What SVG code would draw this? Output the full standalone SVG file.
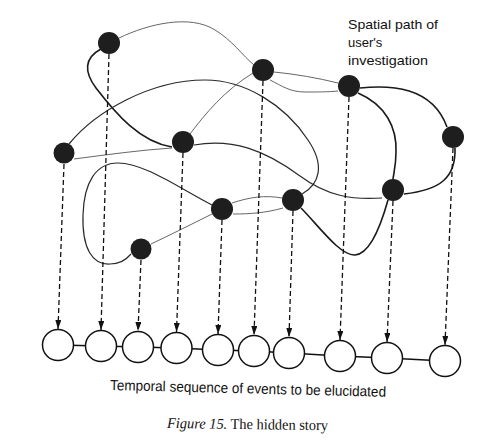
<svg xmlns="http://www.w3.org/2000/svg" width="490" height="442" viewBox="0 0 490 442">
<style>
.bg{fill:#fff}
.node{fill:#1e1e1e}
.slot{fill:#fff;stroke:#111;stroke-width:1.5}
.thick{fill:none;stroke:#1a1a1a;stroke-width:1.6}
.thin{fill:none;stroke:#555;stroke-width:0.9}
.mid{fill:none;stroke:#2a2a2a;stroke-width:1.2}
.drop{fill:none;stroke:#111;stroke-width:1.3;stroke-dasharray:5 3}
.link{fill:none;stroke:#111;stroke-width:1.4}
.lbl{font-family:"Liberation Sans","DejaVu Sans",sans-serif;font-size:13px;fill:#111}
.cap{font-family:"Liberation Sans","DejaVu Sans",sans-serif;font-size:14.5px;fill:#111}
.fig{font-family:"Liberation Serif","DejaVu Serif",serif;font-size:15px;fill:#111}
</style>
<defs>
<marker id="ah" viewBox="0 0 9 6" refX="9" refY="3" markerWidth="9" markerHeight="6" markerUnits="userSpaceOnUse" orient="auto">
<path d="M0,0 L9,3 L0,6 z" fill="#111"/>
</marker>
</defs>
<rect class="bg" x="0" y="0" width="490" height="442"/>
<g id="connectors">
<g id="spatial-path">
<path class="thin" d="M119,38 C148,24 190,14 215,30 C232,40 243,56 254,65"/>
<path class="thick" d="M101,49 C84,58 84,72 96,88 C116,114 140,142 172,147"/>
<path class="mid" d="M69,144 C95,112 150,80 205,80 C245,80 285,105 308,140 C325,165 320,184 302,194"/>
<path class="thin" d="M190,134 C205,114 225,90 253,73"/>
<path class="thin" d="M274,72 C295,74 318,78 338,83"/>
<path class="thin" d="M270,80 C282,86 290,92 305,92 C318,92 328,92 338,91"/>
<path class="thick" d="M360,88 C390,85 432,86 447,127"/>
<path class="thick" d="M358,93 C386,105 397,128 396,152 C396,165 394,172 393,179"/>
<path class="thick" d="M455,148 C456,178 440,190 404,194"/>
<path class="mid" d="M194,145 C232,138 265,150 300,176 C327,196 352,200 382,198"/>
<path class="thin" d="M74,159 C105,155 140,150 172,148"/>
<path class="mid" d="M212,205 C182,190 145,163 118,163 C96,163 84,182 83,215 C82,248 92,265 110,264 C120,264 126,260 131,254"/>
<path class="thin" d="M151,244 C170,235 190,225 212,214"/>
<path class="thin" d="M232,203 C250,197 265,195 282,198"/>
<path class="thin" d="M233,214 C250,214 265,213 283,208"/>
<path class="thick" d="M301,208 C318,225 340,256 355,255 C370,254 381,225 388,200"/>
</g>
<g id="drops">
<line class="drop" x1="64" y1="164" x2="58" y2="329" marker-end="url(#ah)"/>
<line class="drop" x1="109" y1="54" x2="101" y2="330" marker-end="url(#ah)"/>
<line class="drop" x1="141" y1="260" x2="138" y2="331" marker-end="url(#ah)"/>
<line class="drop" x1="183" y1="153" x2="176.5" y2="332" marker-end="url(#ah)"/>
<line class="drop" x1="222" y1="220" x2="218" y2="334" marker-end="url(#ah)"/>
<line class="drop" x1="263" y1="81" x2="254" y2="335" marker-end="url(#ah)"/>
<line class="drop" x1="293" y1="211" x2="289" y2="337" marker-end="url(#ah)"/>
<line class="drop" x1="349" y1="97" x2="340" y2="340" marker-end="url(#ah)"/>
<line class="drop" x1="393" y1="201" x2="387" y2="342" marker-end="url(#ah)"/>
<line class="drop" x1="453" y1="148" x2="445" y2="345" marker-end="url(#ah)"/>
</g>
<g id="sequence-links">
<polyline class="link" points="58,345 101,346 138,347 176.5,348 218,350 254,351 289,353 340,356 387,358 445,361"/>
</g>
</g>
<g id="n1"><circle class="node" cx="109" cy="43" r="11"/></g>
<g id="n2"><circle class="node" cx="263" cy="70" r="11"/></g>
<g id="n3"><circle class="node" cx="349" cy="86" r="11"/></g>
<g id="n4"><circle class="node" cx="453" cy="137" r="11"/></g>
<g id="n5"><circle class="node" cx="64" cy="153" r="10.5"/></g>
<g id="n6"><circle class="node" cx="183" cy="142" r="11"/></g>
<g id="n7"><circle class="node" cx="222" cy="209" r="11"/></g>
<g id="n8"><circle class="node" cx="293" cy="200" r="11"/></g>
<g id="n9"><circle class="node" cx="393" cy="190" r="11"/></g>
<g id="n10"><circle class="node" cx="141" cy="249" r="10.5"/></g>
<g id="t1"><circle class="slot" cx="58" cy="345" r="15.5"/></g>
<g id="t2"><circle class="slot" cx="101" cy="346" r="15.5"/></g>
<g id="t3"><circle class="slot" cx="138" cy="347" r="15.5"/></g>
<g id="t4"><circle class="slot" cx="176.5" cy="348" r="15.5"/></g>
<g id="t5"><circle class="slot" cx="218" cy="350" r="15.5"/></g>
<g id="t6"><circle class="slot" cx="254" cy="351" r="15.5"/></g>
<g id="t7"><circle class="slot" cx="289" cy="353" r="15.5"/></g>
<g id="t8"><circle class="slot" cx="340" cy="356" r="15.5"/></g>
<g id="t9"><circle class="slot" cx="387" cy="358" r="15.5"/></g>
<g id="t10"><circle class="slot" cx="445" cy="361" r="15.5"/></g>
<g id="spatial-label">
<text class="lbl" x="348" y="29" textLength="90" lengthAdjust="spacingAndGlyphs">Spatial path of</text>
<text class="lbl" x="348" y="47">user's</text>
<text class="lbl" x="348" y="65" textLength="80" lengthAdjust="spacingAndGlyphs">investigation</text>
</g>
<g id="temporal-label">
<text class="cap" x="110" y="390" transform="rotate(1.4 110 390)" textLength="276" lengthAdjust="spacingAndGlyphs">Temporal sequence of events to be elucidated</text>
</g>
<g id="figure-caption">
<text class="fig" x="167" y="428" transform="rotate(0.8 167 428)" textLength="161" lengthAdjust="spacingAndGlyphs"><tspan font-style="italic">Figure 15.</tspan> The hidden story</text>
</g>
</svg>
